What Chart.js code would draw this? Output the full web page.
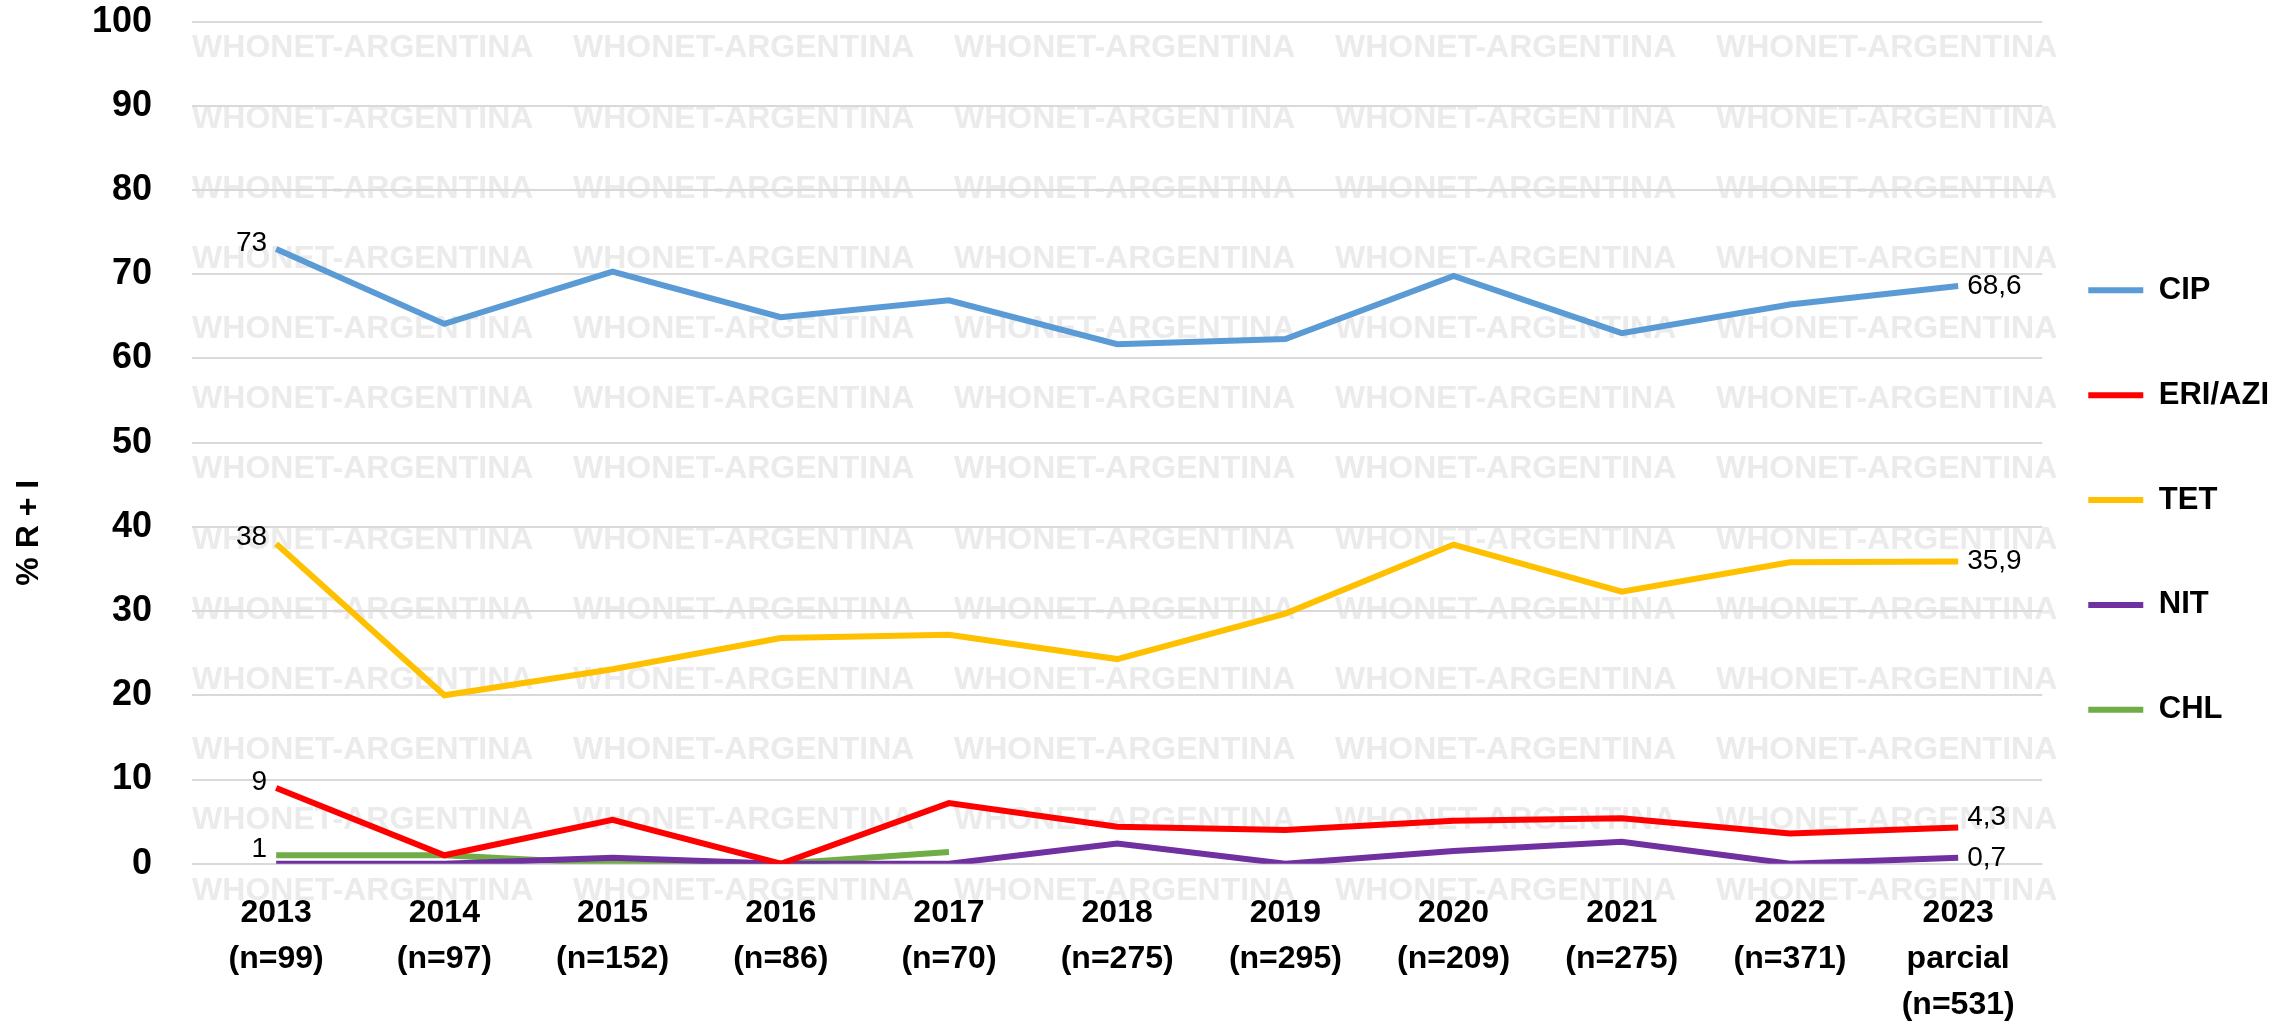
<!DOCTYPE html>
<html>
<head>
<meta charset="utf-8">
<script src="https://cdn.jsdelivr.net/npm/chart.js@4.4.1/dist/chart.umd.min.js"></script>
<style>
  html, body { margin: 0; padding: 0; background: #fff; }
  #wrap { width: 2289px; height: 1028px; position: relative; }
</style>
</head>
<body>
<div id="wrap"><canvas id="resistChart"></canvas></div>
<script>
/* ===== Data ===== */
const years = ['2013', '2014', '2015', '2016', '2017', '2018', '2019', '2020', '2021', '2022', '2023'];
const yearNote = ['', '', '', '', '', '', '', '', '', '', 'parcial'];
const sampleN = [99, 97, 152, 86, 70, 275, 295, 209, 275, 371, 531];

const cip    = [73, 64.1, 70.3, 64.9, 66.9, 61.7, 62.3, 69.8, 63.0, 66.4, 68.6];
const eriAzi = [9, 1, 5.2, 0, 7.2, 4.4, 4.0, 5.1, 5.4, 3.6, 4.3];
const tet    = [38, 20, 23.1, 26.8, 27.2, 24.3, 29.7, 37.9, 32.3, 35.8, 35.9];
const nit    = [0, 0, 0.7, 0, 0, 2.4, 0, 1.5, 2.6, 0, 0.7];
const chl    = [1, 1, 0, 0, 1.4, null, null, null, null, null, null];

const yMin = 0, yMax = 100, yStep = 10;

/* ===== Global config ===== */
Chart.defaults.font.family = "'Liberation Sans', Arial, sans-serif";
Chart.defaults.color = '#000';

const FONT = "'Liberation Sans', Arial, sans-serif";
const fmt = v => String(v).replace('.', ',');

const labels = years.map((y, i) => [y, yearNote[i], '(n=' + sampleN[i] + ')'].filter(Boolean));

/* ---- watermark behind the plot ---- */
const watermark = {
    id: 'watermark',
    beforeDraw(chart) {
        const { ctx, chartArea: a } = chart;
        const text = 'WHONET-ARGENTINA';
        ctx.save();
        ctx.font = 'bold 32px ' + FONT;
        ctx.fillStyle = '#ebebeb';
        ctx.textBaseline = 'middle';
        const tw = ctx.measureText(text).width;
        const rowH = (a.bottom - a.top) / 12;
        for (let r = 0; r <= 12; r++) {
            const y = a.top + 27 + r * rowH;
            for (let c = 0; c < 5; c++) {
                ctx.fillText(text, a.left + c * (a.width + 15 - tw) / 4, y);
            }
        }
        ctx.restore();
    }
};

/* ---- rotated y title, sits a bit below centre like the original ---- */
const yTitle = {
    id: 'yTitle',
    afterDraw(chart) {
        const { ctx, chartArea: a } = chart;
        ctx.save();
        ctx.translate(29, a.top + (a.bottom - a.top) * 0.607);
        ctx.rotate(-Math.PI / 2);
        ctx.font = 'bold 32px ' + FONT;
        ctx.fillStyle = '#000';
        ctx.textAlign = 'center';
        ctx.textBaseline = 'middle';
        ctx.fillText('% R + I', 0, 0);
        ctx.restore();
    }
};

/* ---- value labels on first and last points ---- */
const endLabels = {
    id: 'endLabels',
    afterDatasetsDraw(chart) {
        const { ctx } = chart;
        ctx.save();
        ctx.font = '28px ' + FONT;
        ctx.fillStyle = '#000';
        ctx.textBaseline = 'middle';
        chart.data.datasets.forEach((ds, i) => {
            const pts = chart.getDatasetMeta(i).data;
            const first = ds.data[0];
            if (first > 0) {
                ctx.textAlign = 'right';
                ctx.fillText(fmt(first), pts[0].x - 9, pts[0].y - 6);
            }
            const li = ds.data.length - 1;
            const last = ds.data[li];
            if (last != null) {
                ctx.textAlign = 'left';
                ctx.fillText(fmt(last), pts[li].x + 9, pts[li].y + (ds.endLabelShift || 0));
            }
        });
        ctx.restore();
    }
};

const lineOpts = { borderWidth: 6, pointRadius: 0, pointHoverRadius: 0, tension: 0, fill: false };

new Chart(document.getElementById('resistChart'), {
    type: 'line',
    data: {
        labels: labels,
        datasets: [
            { label: 'CIP', data: cip, borderColor: '#5B9BD5', backgroundColor: '#5B9BD5', ...lineOpts },
            { label: 'ERI/AZI', data: eriAzi, borderColor: '#FF0000', backgroundColor: '#FF0000', endLabelShift: -10, ...lineOpts },
            { label: 'TET', data: tet, borderColor: '#FFC000', backgroundColor: '#FFC000', ...lineOpts },
            { label: 'NIT', data: nit, borderColor: '#7030A0', backgroundColor: '#7030A0', ...lineOpts },
            { label: 'CHL', data: chl, borderColor: '#70AD47', backgroundColor: '#70AD47', ...lineOpts }
        ]
    },
    options: {
        responsive: true, maintainAspectRatio: false,
        animation: false,
        layout: { padding: { left: 92, right: 10, top: 0, bottom: 0 } },
        plugins: {
            tooltip: { enabled: false },
            legend: {
                position: 'right',
                labels: {
                    usePointStyle: true,
                    pointStyle: 'line',
                    pointStyleWidth: 55,
                    padding: 46,
                    color: '#000',
                    font: { size: 31, weight: 'bold', lineHeight: 1.9 },
                    // array text lets the row height differ from the side padding
                    generateLabels(chart) {
                        const items = Chart.defaults.plugins.legend.labels.generateLabels(chart);
                        return items
                            .sort((a, b) => a.datasetIndex - b.datasetIndex)
                            .map(it => ({
                                ...it,
                                text: [it.text],
                                lineWidth: 6,
                                strokeStyle: chart.data.datasets[it.datasetIndex].borderColor
                            }));
                    }
                }
            }
        },
        scales: {
            y: {
                min: yMin, max: yMax,
                ticks: { stepSize: yStep, padding: 0, font: { size: 36, weight: 'bold' }, color: '#000' },
                grid: { color: '#d9d9d9', lineWidth: 2, drawTicks: true, tickLength: 40, tickColor: 'rgba(0,0,0,0)' },
                border: { display: false }
            },
            x: {
                offset: true,
                ticks: { padding: 0, font: { size: 32, weight: 'bold', lineHeight: 1.43 }, color: '#000', maxRotation: 0, autoSkip: false },
                grid: { display: true, drawOnChartArea: false, drawTicks: true, tickLength: 27, tickColor: 'rgba(0,0,0,0)' },
                border: { display: false }
            }
        }
    },
    plugins: [watermark, yTitle, endLabels]
});
</script>
</body>
</html>
